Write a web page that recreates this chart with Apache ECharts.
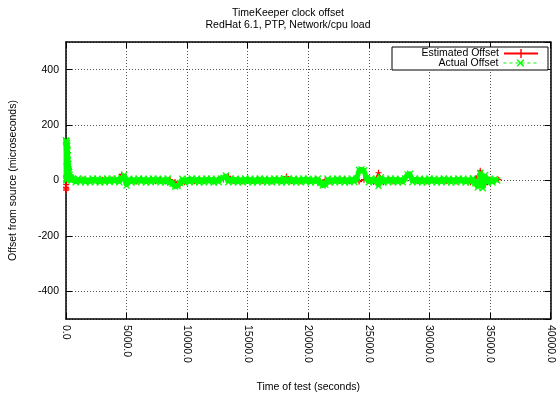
<!DOCTYPE html>
<html><head><meta charset="utf-8">
<script src="https://cdn.jsdelivr.net/npm/echarts@6/dist/echarts.min.js"></script>
<style>html,body{margin:0;padding:0;background:#fff}#c{width:556px;height:398px}</style>
</head><body><div id="c"></div>
<script>
// ---- texts ----
const titleText = 'TimeKeeper clock offset';
const subtitleText = 'RedHat 6.1, PTP, Network/cpu load';
const seriesNames = ['Estimated Offset', 'Actual Offset'];
const xAxisName = 'Time of test (seconds)';
const yAxisName = 'Offset from source (microseconds)';

// ---- axes ----
const xMin = 0, xMax = 40000, xInterval = 5000;
const yMin = -500, yMax = 500;
const yTickLabels = [-400, -200, 0, 200, 400];

// ---- Actual Offset (green) ----
// start-up transient (time s, offset us)
const actualStartT = [0, 10, 20, 30, 40, 50, 60, 70, 80, 90, 100, 115, 130, 145, 160, 180, 200, 230, 260, 300, 350, 400, 450, 500];
const actualStartV = [145, 5, 140, 0, 142, 10, 135, 5, 130, 20, 125, 30, 110, 40, 90, 50, 60, 35, 30, 20, 12, 8, 5, 2];
// steady part, one reading every 200 s from 600 s
const actualSteadyStart = 600, actualSteadyStep = 200;
const actualSteady = [
  5, -6, 7, -5, 6, -7, 4, -6, 7, -5,
  6, -7, 5, -6, 7, -5, 6, -4, 7, -6,
  8, 20, -18, 6, -7, 5, -6, 7, -5, 6,
  -7, 5, -6, 7, -4, 6, -7, 5, -6, 7,
  -8, -12, -22, -20, -9, 6, -7, 5, -6, 7,
  -5, 6, -7, 5, -6, 7, -5, 6, -7, 5,
  -6, 7, 10, 18, -6, 7, -5, 6, -7, 5,
  -6, 7, -5, 6, -7, 5, -6, 7, -5, 6,
  -7, 5, -6, 7, -5, 6, -7, 8, -6, 7,
  -5, 6, -7, 5, -6, 7, -5, 6, -7, 5,
  -6, 7, -9, -18, -15, 6, -7, 5, -6, 7,
  -5, 6, -7, 5, -6, 7, -5, 6, 38, 40,
  36, 8, -6, 7, -5, 6, -20, 12, -7, 5,
  -6, 7, -5, 6, -7, 5, -6, 7, 22, 24,
  -6, 7, -5, 6, -7, 5, -6, 7, -5, 6,
  -7, 5, -6, 7, -5, 6, -7, 5, -6, 7,
  -5, 6, -7, 5, -6, 8, -10, -25, 28, -28,
  20, -8, 6, -7, 5, 0
];

// ---- Estimated Offset (red) ----
const estStartT = [0, 10, 20, 30, 50, 80, 120, 200, 300, 400];
const estStartV = [-25, -35, -15, -30, 60, 100, 70, 40, 15, 5];
// steady part, one reading every 400 s from 600 s
const estSteadyStart = 600, estSteadyStep = 400;
const estSteady = [
  3, -2, 4, -3, 2, -4, 3, -2, 4, -3,
  22, -3, 2, -4, 3, -2, 4, -3, 2, -4,
  3, -5, -15, -6, 2, -3, 4, -2, 3, -4,
  2, 4, 15, -3, 2, -4, 3, -2, 4, -3,
  2, -4, 3, -2, 14, -3, 2, -4, 3, -2,
  4, -3, 2, -4, 3, -2, 4, -3, 2, -4,
  3, -2, -5, 28, -6, 3, -4, 2, -3, 20,
  4, -3, 2, -4, 3, -2, 4, -3, 2, -4,
  3, -2, -6, 8, 35, -15, 4, -3
];
const estEndT = [35700];
const estEndV = [3];

// ---- build pairs ----
function pairs(ts, vs) { return ts.map((t, i) => [t, vs[i]]); }
function steadyPairs(start, step, vs) { return vs.map((v, i) => [start + i * step, v]); }
const actualData = pairs(actualStartT, actualStartV).concat(steadyPairs(actualSteadyStart, actualSteadyStep, actualSteady));
const estData = pairs(estStartT, estStartV).concat(steadyPairs(estSteadyStart, estSteadyStep, estSteady)).concat(pairs(estEndT, estEndV));

const FONT = 'Liberation Sans';
const FS = 10.5;
const RED = '#ff0000', GREEN = '#00ff00';
const plusPath = 'path://M4,0 H6 V4 H10 V6 H6 V10 H4 V6 H0 V4 H4 Z';
const crossPath = 'path://M0,0 L1.4,0 L5,3.6 L8.6,0 L10,0 L10,1.4 L6.4,5 L10,8.6 L10,10 L8.6,10 L5,6.4 L1.4,10 L0,10 L0,8.6 L3.6,5 L0,1.4 Z';
// legend sample: solid line with a "+" in the middle
const redKeyIcon = 'path://M0,3.5 H34 V5.5 H0 Z M16.3,0 H17.7 V9 H16.3 Z';

const gridLine = { show: true, lineStyle: { color: '#555', type: [1, 2], width: 1 } };
const axLine = { show: true, onZero: false, lineStyle: { color: '#000', width: 1.5 } };
const tick = { show: true, inside: true, length: 6, lineStyle: { color: '#000', width: 1 } };

const chart = echarts.init(document.getElementById('c'), null, { renderer: 'canvas' });
chart.setOption({
  animation: false,
  backgroundColor: '#fff',
  textStyle: { fontFamily: FONT },
  title: {
    text: titleText, subtext: subtitleText,
    left: 288, top: 7, textAlign: 'center', itemGap: 0, padding: 0,
    textStyle: { fontFamily: FONT, fontSize: FS, fontWeight: 'normal', color: '#000', lineHeight: 12 },
    subtextStyle: { fontFamily: FONT, fontSize: FS, color: '#000', lineHeight: 12 }
  },
  grid: { left: 61, right: 4, top: 42, bottom: 70, show: false },
  graphic: [{
    type: 'rect', z: 3,
    shape: { x: 392, y: 47, width: 156, height: 23 },
    style: { fill: '#fff', stroke: '#000', lineWidth: 1 }
  }],
  legend: [
    {
      data: [{ name: seriesNames[0], icon: redKeyIcon,
        itemStyle: { color: RED, borderColor: RED, borderWidth: 0 } }],
      orient: 'vertical', align: 'right', right: 18, top: 48, padding: 0,
      itemWidth: 34, itemHeight: 9, z: 5,
      textStyle: { fontFamily: FONT, fontSize: FS, color: '#000', lineHeight: 9 }
    },
    {
      data: [{ name: seriesNames[1], lineStyle: { color: GREEN, type: [3, 3], width: 1.2 }, itemStyle: { color: GREEN } }],
      orient: 'vertical', align: 'right', right: 18, top: 57.5, padding: 0,
      itemWidth: 34, itemHeight: 9, z: 5,
      textStyle: { fontFamily: FONT, fontSize: FS, color: '#000', lineHeight: 9 }
    }
  ],
  xAxis: [
    {
      type: 'value', min: xMin, max: xMax, interval: xInterval, position: 'bottom',
      name: xAxisName, nameLocation: 'middle', nameGap: 63,
      nameTextStyle: { fontFamily: FONT, fontSize: FS, color: '#000' },
      axisLine: axLine, axisTick: tick, splitLine: gridLine,
      axisLabel: { rotate: -90, margin: 6, fontFamily: FONT, fontSize: FS, color: '#000',
        formatter: v => v.toFixed(1) }
    },
    {
      type: 'value', min: xMin, max: xMax, interval: xInterval, position: 'top',
      axisLine: axLine, axisTick: tick, splitLine: { show: false }, axisLabel: { show: false }
    }
  ],
  yAxis: [
    {
      type: 'value', min: yMin, max: yMax, splitNumber: 5, position: 'left',
      name: yAxisName, nameLocation: 'middle', nameGap: 47,
      nameTextStyle: { fontFamily: FONT, fontSize: FS, color: '#000' },
      axisLine: axLine, axisTick: tick, splitLine: gridLine,
      axisLabel: { margin: 7, fontFamily: FONT, fontSize: FS, color: '#000',
        showMinLabel: false, showMaxLabel: false,
        formatter: v => (yTickLabels.indexOf(v) >= 0 ? String(v) : '') }
    },
    {
      type: 'value', min: yMin, max: yMax, splitNumber: 5, position: 'right',
      axisLine: axLine, axisTick: tick, splitLine: { show: false }, axisLabel: { show: false }
    }
  ],
  series: [
    {
      name: seriesNames[0], type: 'line', data: estData, clip: false,
      symbol: plusPath, symbolSize: 6, showAllSymbol: true,
      lineStyle: { color: RED, width: 1.5 }, itemStyle: { color: RED },
      z: 2
    },
    {
      name: seriesNames[1], type: 'line', data: actualData, clip: false,
      symbol: crossPath, symbolSize: 6.5, showAllSymbol: true,
      lineStyle: { color: GREEN, width: 5, join: 'bevel' }, itemStyle: { color: GREEN },
      z: 3
    }
  ]
});
</script>
</body></html>
